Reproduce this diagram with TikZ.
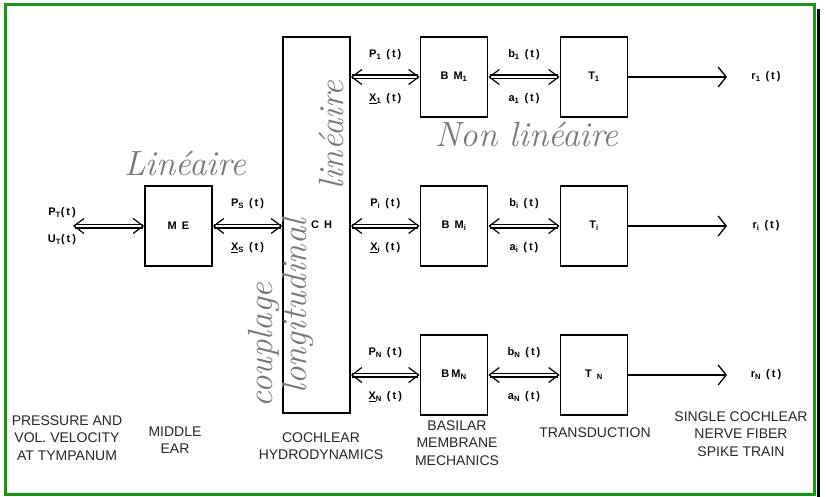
\documentclass[tikz,border=0pt]{standalone}
\usepackage{fontspec}
\setsansfont{Liberation Sans}
\newfontfamily\sigfont[LetterSpace=18]{Liberation Sans}
\usetikzlibrary{arrows.meta}

\definecolor{framegreen}{RGB}{22,150,22}
\definecolor{pencil}{RGB}{120,120,120}

\tikzset{every path/.style={semithick}}
\tikzset{
  block/.style={draw, line width=1.7pt, minimum width=67pt, minimum height=80pt, inner sep=0pt,
    font=\sigfont\bfseries\fontsize{11}{12}\selectfont},
  sig/.style={font=\sigfont\bfseries\fontsize{11}{12}\selectfont},
  caption/.style={align=center, text=black!85, font=\sffamily\fontsize{14}{17.5}\selectfont},
  hand/.style={text=pencil, font=\itshape\fontsize{35}{36}\selectfont},
  dbl/.style={double distance=2.6pt, line width=1.2pt,
    {Straight Barb[length=10pt,width=15pt]}-{Straight Barb[length=10pt,width=15pt]}},
  spike/.style={line width=1.3pt, -{Straight Barb[length=8pt,width=20pt]}},
}

\begin{document}
\begin{tikzpicture}[x=1pt, y=-1pt]
  \useasboundingbox (0,0) rectangle (826,497);
  \draw[framegreen, line width=3pt] (5,5) rectangle (814,494);
  \draw[line width=3pt] (818,9) -- (818,497);

  \node[block] (me) at (178.5,226) {M E};
  \node[block, minimum height=376pt] (ch) at (316.5,225) {\ \ C H};
  \node[block] (bm1) at (454,77) {B M\textsubscript{1}};
  \node[block] (t1) at (594,77) {T\textsubscript{1}};
  \node[block] (bmi) at (454,226) {B M\textsubscript{i}};
  \node[block] (ti) at (594,226) {T\textsubscript{i}};
  \node[block] (bmn) at (454,375) {BM\textsubscript{N}};
  \node[block] (tn) at (594,375) {T \textsubscript{N}};

  \coordinate (tymp) at (73,226);
  \draw[dbl] (tymp) -- (me.west);
  \node[sig] (pt) at (62,213) {P\textsubscript{T}(t)};
  \node[sig] (ut) at (62,240) {U\textsubscript{T}(t)};
  \draw[dbl] (me.east) -- node[sig, above=13pt] (ps) {P\textsubscript{S} (t)}
    node[sig, below=13pt] (xs) {\underline{X}\textsubscript{S} (t)} (me.east -| ch.west);

  \draw[dbl] (bm1.west -| ch.east) -- node[sig, above=13pt] (p1) {P\textsubscript{1} (t)}
    node[sig, below=13pt] (x1) {\underline{X}\textsubscript{1} (t)} (bm1.west);
  \draw[dbl] (bmi.west -| ch.east) -- node[sig, above=13pt] (pi) {P\textsubscript{i} (t)}
    node[sig, below=13pt] (xi) {\underline{X}\textsubscript{i} (t)} (bmi.west);
  \draw[dbl] (bmn.west -| ch.east) -- node[sig, above=13pt] (pn) {P\textsubscript{N} (t)}
    node[sig, below=13pt] (xn) {\underline{X}\textsubscript{N} (t)} (bmn.west);

  \draw[dbl] (bm1.east) -- node[sig, above=13pt] (b1) {b\textsubscript{1} (t)}
    node[sig, below=13pt] (a1) {a\textsubscript{1} (t)} (t1.west);
  \draw[dbl] (bmi.east) -- node[sig, above=13pt] (bi) {b\textsubscript{i} (t)}
    node[sig, below=13pt] (ai) {a\textsubscript{i} (t)} (ti.west);
  \draw[dbl] (bmn.east) -- node[sig, above=13pt] (bn) {b\textsubscript{N} (t)}
    node[sig, below=13pt] (an) {a\textsubscript{N} (t)} (tn.west);

  \coordinate (out1) at (727,77);
  \coordinate (outi) at (727,226);
  \coordinate (outn) at (727,375);
  \draw[spike] (t1.east) -- (out1);
  \draw[spike] (ti.east) -- (outi);
  \draw[spike] (tn.east) -- (outn);
  \node[sig] (r1) at (766,77) {r\textsubscript{1} (t)};
  \node[sig] (ri) at (766,226) {r\textsubscript{i} (t)};
  \node[sig] (rn) at (766,375) {r\textsubscript{N} (t)};

  \node[hand] (lin) at (185,163) {Linéaire};
  \node[hand] (nonlin) at (527,134) {Non linéaire};
  \node[hand, rotate=90] (linch) at (331,135) {linéaire};
  \node[hand, rotate=90] (coupl) at (264,345) {couplage};
  \node[hand, rotate=90] (longi) at (298,306) {longitudinal};

  \node[caption] (captymp) at (67,438) {PRESSURE AND\\VOL. VELOCITY\\AT TYMPANUM};
  \node[caption] (capme) at (175,440) {MIDDLE\\EAR};
  \node[caption] (capch) at (321,446) {COCHLEAR\\HYDRODYNAMICS};
  \node[caption] (capbm) at (457,443) {BASILAR\\MEMBRANE\\MECHANICS};
  \node[caption] (captr) at (595,433) {TRANSDUCTION};
  \node[caption] (capspike) at (741,434) {SINGLE COCHLEAR\\NERVE FIBER\\SPIKE TRAIN};
\end{tikzpicture}
\end{document}
